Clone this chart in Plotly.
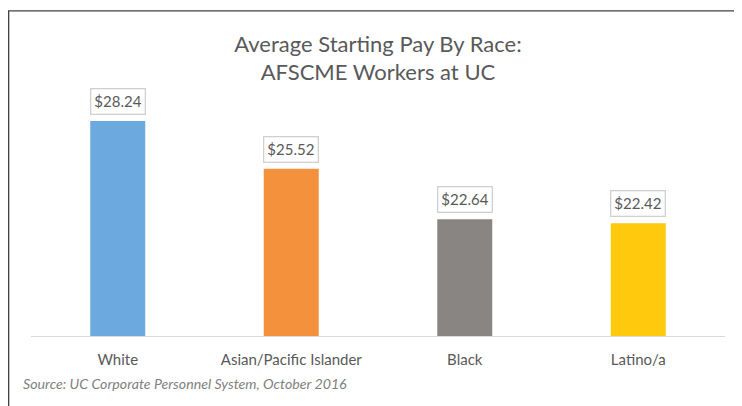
import plotly.graph_objects as go

categories = ["White", "Asian/Pacific Islander", "Black", "Latino/a"]
pay = [28.24, 25.52, 22.64, 22.42]
bar_colors = ["#6CA9DE", "#F4913D", "#898582", "#FFC90D"]
labels = ["$%.2f" % v for v in pay]

FONT = "Lato, 'Open Sans', sans-serif"

fig = go.Figure(
    data=[
        go.Bar(
            x=categories,
            y=pay,
            marker=dict(color=bar_colors, line=dict(width=0)),
            width=0.317,
            hoverinfo="x+y",
        )
    ]
)

# value boxes above each bar
for cat, val, lab in zip(categories, pay, labels):
    fig.add_annotation(
        x=cat, y=val, text=lab, showarrow=False,
        yanchor="bottom", yshift=6,
        font=dict(family=FONT, size=15, color="#595959"),
        bgcolor="white", bordercolor="#D0D0D0", borderwidth=1.3, borderpad=3,
    )

fig.add_annotation(
    xref="paper", yref="paper", x=-0.0144, y=-0.192,
    xanchor="left", yanchor="middle", showarrow=False,
    text="<i>Source: UC Corporate Personnel System, October 2016</i>",
    font=dict(family=FONT, size=14.2, color="#7F7F7F"),
)

# chart border (cropped on right and bottom)
fig.add_shape(
    type="rect", xref="paper", yref="paper",
    x0=-0.0322, x1=1.03, y0=-0.31, y1=1.322,
    line=dict(color="#404040", width=1.3), fillcolor="rgba(0,0,0,0)",
)

# page body has an 8px margin, so the figure is sized 734x398
fig.update_layout(
    width=734, height=398,
    margin=dict(l=23, r=17, t=82, b=70),
    paper_bgcolor="white", plot_bgcolor="white",
    showlegend=False,
    title=dict(
        text="Average Starting Pay By Race:<br>AFSCME Workers at UC",
        x=0.5, xref="paper", xanchor="center",
        y=0.89, yref="container", yanchor="top",
        font=dict(family=FONT, size=22, color="#595959"),
    ),
    xaxis=dict(
        showline=True, linecolor="#D9D9D9", linewidth=1.3,
        showgrid=False, ticks="", zeroline=False,
        tickfont=dict(family=FONT, size=15, color="#595959"),
        ticklabelstandoff=10,
    ),
    yaxis=dict(
        range=[16, 30], visible=False, showgrid=False, zeroline=False,
    ),
)

fig.write_html("out.html")
